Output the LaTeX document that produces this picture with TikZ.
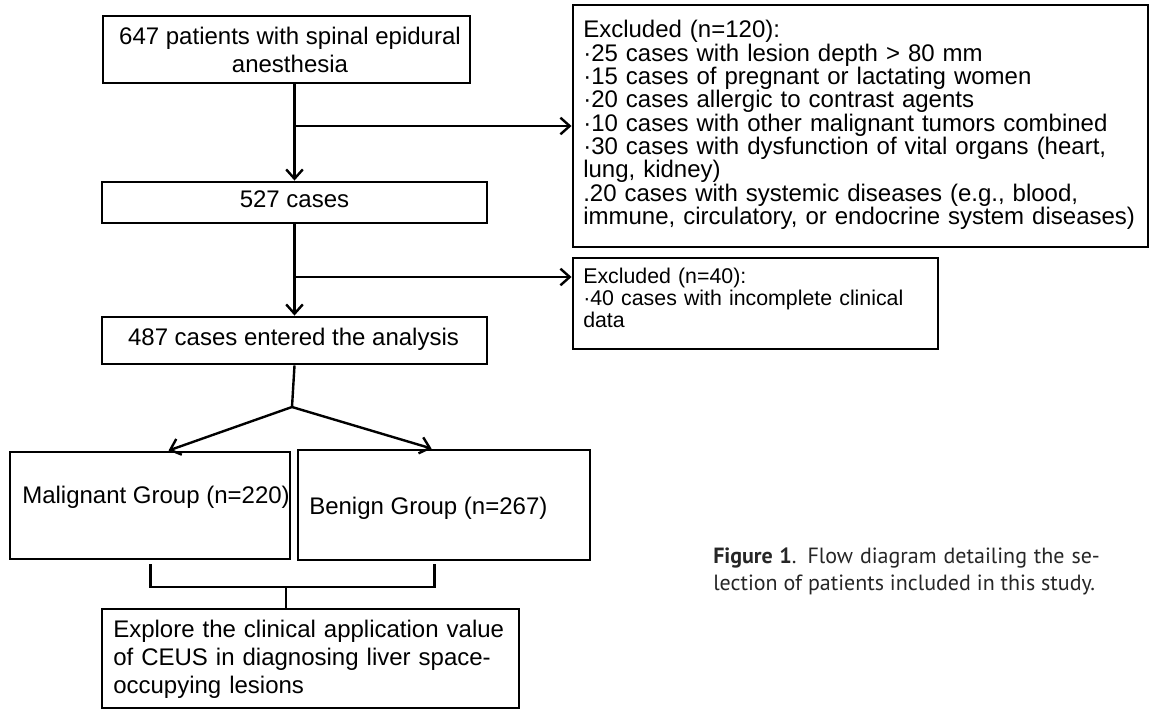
\documentclass[tikz,border=0pt]{standalone}
\usepackage{fontspec}
\setmainfont{Liberation Sans}
\newfontfamily\capfont{PT Sans}
\usetikzlibrary{arrows.meta,calc}
\begin{document}
\begin{tikzpicture}[x=0.75pt,y=-0.75pt,
  box/.style={draw, line width=2.2pt, inner sep=0pt},
  txt/.style={font=\fontsize{18pt}{21pt}\selectfont, inner sep=0pt},
  listtxt/.style={font=\fontsize{18pt}{17.5pt}\selectfont, align=left, inner sep=0pt},
  smalllist/.style={font=\fontsize{16pt}{16.75pt}\selectfont, align=left, inner sep=0pt},
  captxt/.style={font=\capfont\fontsize{16.5pt}{20pt}\selectfont, text=black!85, inner sep=0pt},
  conn/.style={line width=1.8pt},
  arr/.style={conn, -{Straight Barb[length=7pt,width=12.5pt]}}]
\useasboundingbox[fill=white] (0,0) rectangle (1150,710);

% boxes
\node[box, minimum width=275.25pt, minimum height=50.25pt] (A) at (286.5,49.5) {};
\node[txt, align=center] (At) at (290,50.3) {647 patients with spinal epidural\\anesthesia};

\node[box, minimum width=431.25pt, minimum height=181.5pt] (B) at (860.5,126) {};
\node[listtxt, text width=425pt, anchor=west] (Bt) at (583,125) {Excluded (n=120):\\
·25 cases with lesion depth > 80 mm\\
·15 cases of pregnant or lactating women\\
·20 cases allergic to contrast agents\\
·10 cases with other malignant tumors combined\\
·30 cases with dysfunction of vital organs (heart,\\
lung, kidney)\\
.20 cases with systemic diseases (e.g., blood,\\
immune, circulatory, or endocrine system diseases)};

\node[box, minimum width=288.75pt, minimum height=30.75pt] (C) at (294.5,202.5) {};
\node[txt, anchor=base] (Ct) at (294.5,207) {527 cases};

\node[box, minimum width=288.75pt, minimum height=35.25pt] (D) at (294.5,340.5) {};
\node[txt, anchor=base] (Dt) at (293.5,345) {487 cases entered the analysis};

\node[box, minimum width=273.75pt, minimum height=68.25pt] (E) at (755.5,303.5) {};
\node[smalllist, text width=265pt, anchor=west] (Et) at (583,298) {Excluded (n=40):\\
·40 cases with incomplete clinical\\
data};

\node[box, minimum width=210pt, minimum height=80.25pt] (F) at (150,505.5) {};
\node[txt, anchor=base west] (Ft) at (22,503) {Malignant Group (n=220)};

\node[box, minimum width=219pt, minimum height=82.5pt] (G) at (444,505) {};
\node[txt, anchor=base west] (Gt) at (309,514) {Benign Group (n=267)};

\node[box, minimum width=312.75pt, minimum height=74.25pt] (H) at (310.5,658.5) {};
\node[txt, align=left, text width=305pt, anchor=west] (Ht) at (113,658.8) {Explore the clinical application value\\of CEUS in diagnosing liver space-\\occupying lesions};

% caption
\node[captxt, anchor=base west] (cap1) at (713,563) {\makebox[290pt][s]{\textbf{Figure 1}. Flow diagram detailing the se-}};
\node[captxt, anchor=base west] (cap2) at (713,590) {lection of patients included in this study.};

% connectors
\draw[arr] (C.north |- A.south) -- (C.north);
\coordinate (b1) at (C.north |- B.west);
\draw[arr] (b1) -- (B.west);
\draw[arr] (C.south) -- (D.north);
\coordinate (b2) at (294.5,277);
\draw[arr] (b2) -- (b2 -| E.west);
\coordinate (sp) at (292,407);
\draw[conn] (D.south) -- (sp);
\draw[arr] (sp) -- ($(F.north west)+(160,0)$);
\draw[arr] (sp) -- ($(G.north west)+(135,0)$);
\coordinate (bl) at ($(F.south west)+(142,4)$);
\coordinate (br) at ($(G.south west)+(138,3)$);
\coordinate (bm) at (286,587);
\draw[conn] (bl) |- (bm) -| (br);
\draw[conn] (bm) -- (bm |- H.north);
\end{tikzpicture}
\end{document}
